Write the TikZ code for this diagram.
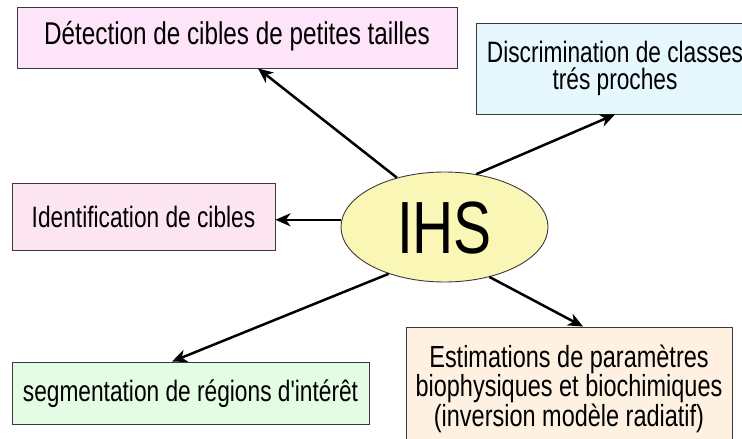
\documentclass[tikz,border=0pt]{standalone}
\usepackage{fontspec}
\newfontfamily\lbs[FakeStretch=0.77]{Liberation Sans}
\usetikzlibrary{arrows.meta,shapes.geometric}
\definecolor{pinkA}{HTML}{FDE4F9}
\definecolor{pinkB}{HTML}{FCE4F0}
\definecolor{blueA}{HTML}{E6F7FE}
\definecolor{greenA}{HTML}{E4FCE4}
\definecolor{peachA}{HTML}{FEF1E1}
\definecolor{yellowA}{HTML}{FAF7B6}
\definecolor{edgeA}{HTML}{3A3A3A}
\tikzset{
  boxstyle/.style={draw=edgeA, line width=0.9pt, rectangle, inner sep=0pt,
    font=\lbs\fontsize{29.5}{27}\selectfont, align=center, text=black},
  onel/.style={text height=21.5pt, text depth=#1},
  conn/.style={line width=2.5pt, black, -{Stealth[length=15pt,width=13pt,inset=4.5pt]}},
}
\begin{document}
\begin{tikzpicture}[x=1pt,y=-1pt]
\useasboundingbox (0,0) rectangle (742,439);
\clip (0,0) rectangle (742,439);
\fill[white] (0,0) rectangle (742,439);
\node[boxstyle, onel=8pt, fill=pinkA, minimum width=440pt, minimum height=61pt, font=\lbs\fontsize{31.5}{28}\selectfont, text height=23pt] (b1) at (237,37.5) {Détection de cibles de petites tailles};
\node[boxstyle, fill=blueA, minimum width=278pt, minimum height=91pt] (b2) at (615,68.5) {Discrimination de classes\\trés proches};
\node[boxstyle, onel=0pt, fill=pinkB, minimum width=263pt, minimum height=67pt] (b3) at (143.5,216.5) {Identification de cibles};
\node[boxstyle, onel=4pt, fill=greenA, minimum width=357pt, minimum height=62pt] (b4) at (190.5,393) {segmentation de régions d'intérêt};
\node[boxstyle, fill=peachA, minimum width=326pt, minimum height=124pt, font=\lbs\fontsize{30.5}{27.5}\selectfont] (b5) at (569,389) {Estimations de paramètres\\biophysiques et biochimiques\\(inversion modèle radiatif)};
\node[ellipse, draw=edgeA, line width=0.9pt, fill=yellowA, minimum width=207pt, minimum height=110pt, inner sep=0pt, font=\lbs\fontsize{74}{74}\selectfont, text height=53pt, text depth=0pt] (ihs) at (444.5,227) {IHS};
\draw[conn] (ihs.134) -- ([xshift=21pt]b1.south);
\draw[conn] (ihs.59) -- (b2.south);
\draw[conn] (ihs.176) -- (ihs.176 -| b3.east);
\draw[conn] (ihs.220) -- ([xshift=-18.5pt]b4.north);
\draw[conn] (ihs.312) -- ([xshift=14pt]b5.north);
\end{tikzpicture}
\end{document}
